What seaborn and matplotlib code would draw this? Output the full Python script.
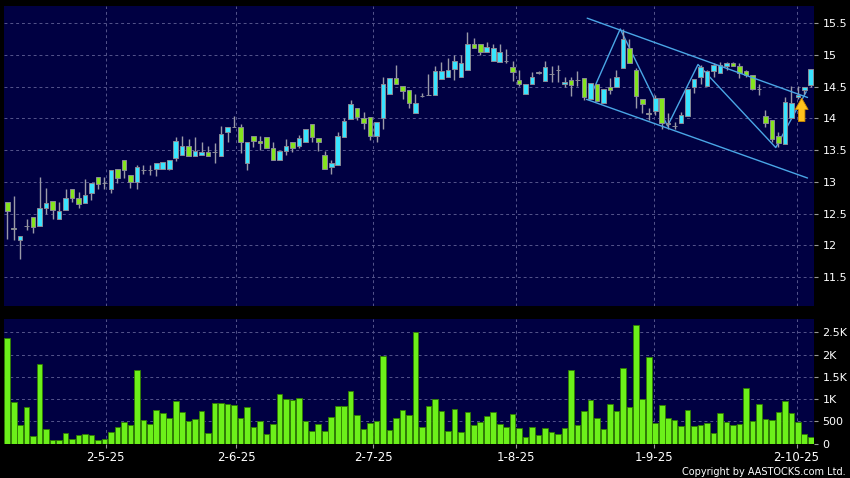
import numpy as np
import pandas as pd
import seaborn as sns
import matplotlib.pyplot as plt
from matplotlib.patches import FancyArrow

# daily candles (trading-day index 0..124)
opens = [12.68, 12.27, 12.09, 12.31, 12.45, 12.31, 12.59, 12.69, 12.42, 12.55,
         12.89, 12.74, 12.66, 12.82, 13.07, 12.98, 12.88, 13.21, 13.35, 13.10,
         12.99, 13.19, 13.19, 13.20, 13.21, 13.21, 13.38, 13.43, 13.57, 13.41,
         13.42, 13.47, 13.47, 13.41, 13.79, 13.86, 13.87, 13.29, 13.73, 13.65,
         13.70, 13.54, 13.35, 13.48, 13.62, 13.57, 13.62, 13.91, 13.69, 13.42,
         13.24, 13.27, 13.71, 13.99, 14.16, 14.01, 14.02, 13.72, 14.00, 14.38,
         14.64, 14.51, 14.44, 14.09, 14.36, 14.37, 14.37, 14.62, 14.65, 14.78,
         14.65, 14.76, 15.18, 15.17, 15.04, 14.91, 14.89, 14.91, 14.81, 14.61,
         14.39, 14.54, 14.71, 14.59, 14.70, 14.77, 14.55, 14.61, 14.60, 14.64,
         14.30, 14.54, 14.24, 14.50, 14.50, 14.79, 15.11, 14.77, 14.30, 14.09,
         14.12, 14.32, 13.93, 13.88, 13.92, 14.04, 14.50, 14.65, 14.51, 14.75,
         14.71, 14.82, 14.87, 14.83, 14.74, 14.69, 14.47, 14.04, 13.98, 13.73,
         13.59, 14.00, 14.34, 14.44, 14.53]
highs = [12.68, 12.77, 12.14, 12.42, 12.45, 13.07, 12.91, 12.70, 12.68, 12.88,
         12.89, 12.84, 13.04, 12.98, 13.07, 13.08, 13.18, 13.21, 13.35, 13.10,
         13.27, 13.26, 13.27, 13.29, 13.32, 13.34, 13.71, 13.72, 13.68, 13.71,
         13.62, 13.57, 13.61, 13.88, 13.86, 14.04, 13.91, 13.63, 13.73, 13.72,
         13.70, 13.63, 13.48, 13.68, 13.62, 13.74, 13.84, 13.91, 13.69, 13.49,
         13.35, 13.78, 14.00, 14.29, 14.16, 14.10, 14.02, 13.94, 14.65, 14.64,
         14.84, 14.51, 14.44, 14.38, 14.40, 14.70, 14.82, 14.89, 14.95, 15.00,
         15.00, 15.36, 15.26, 15.17, 15.21, 15.18, 15.17, 15.09, 14.91, 14.77,
         14.54, 14.73, 14.74, 14.91, 14.82, 14.84, 14.65, 14.66, 14.75, 14.64,
         14.56, 14.54, 14.47, 14.63, 14.76, 15.41, 15.25, 14.80, 14.30, 14.17,
         14.37, 14.32, 14.08, 13.94, 14.10, 14.47, 14.62, 14.84, 14.77, 14.87,
         14.89, 14.89, 14.89, 14.88, 14.76, 14.69, 14.55, 14.13, 13.98, 13.79,
         14.34, 14.51, 14.51, 14.50, 14.78]
lows = [12.10, 12.09, 11.79, 12.24, 12.19, 12.31, 12.50, 12.41, 12.42, 12.55,
        12.68, 12.59, 12.66, 12.72, 12.89, 12.89, 12.83, 12.98, 13.06, 12.91,
        12.89, 13.12, 13.11, 13.09, 13.21, 13.19, 13.33, 13.43, 13.41, 13.41,
        13.42, 13.40, 13.29, 13.41, 13.63, 13.86, 13.46, 13.19, 13.55, 13.50,
        13.54, 13.35, 13.35, 13.42, 13.47, 13.53, 13.62, 13.63, 13.49, 13.21,
        13.12, 13.27, 13.71, 13.99, 13.97, 13.84, 13.66, 13.62, 13.84, 14.38,
        14.54, 14.30, 14.17, 14.09, 14.33, 14.37, 14.37, 14.62, 14.65, 14.61,
        14.65, 14.76, 15.11, 15.00, 15.04, 14.91, 14.89, 14.87, 14.59, 14.51,
        14.39, 14.54, 14.70, 14.59, 14.58, 14.58, 14.49, 14.36, 14.51, 14.29,
        14.30, 14.28, 14.24, 14.38, 14.50, 14.79, 14.87, 14.16, 14.08, 13.97,
        14.05, 13.84, 13.84, 13.84, 13.92, 14.04, 14.40, 14.55, 14.51, 14.66,
        14.71, 14.76, 14.83, 14.64, 14.66, 14.45, 14.37, 13.86, 13.63, 13.55,
        13.59, 14.00, 14.30, 14.38, 14.49]
closes = [12.54, 12.25, 12.14, 12.31, 12.28, 12.59, 12.67, 12.55, 12.54, 12.75,
          12.75, 12.65, 12.80, 12.98, 12.96, 12.98, 13.18, 13.06, 13.19, 12.99,
          13.24, 13.19, 13.19, 13.29, 13.32, 13.34, 13.64, 13.57, 13.41, 13.49,
          13.47, 13.40, 13.47, 13.76, 13.86, 13.86, 13.62, 13.63, 13.64, 13.61,
          13.54, 13.35, 13.48, 13.57, 13.54, 13.69, 13.84, 13.71, 13.62, 13.21,
          13.29, 13.72, 13.96, 14.22, 14.02, 13.92, 13.72, 13.94, 14.55, 14.64,
          14.54, 14.43, 14.24, 14.25, 14.36, 14.37, 14.75, 14.75, 14.76, 14.91,
          14.87, 15.17, 15.11, 15.05, 15.12, 15.11, 15.05, 14.91, 14.73, 14.55,
          14.54, 14.66, 14.73, 14.81, 14.70, 14.77, 14.58, 14.52, 14.60, 14.33,
          14.56, 14.28, 14.47, 14.45, 14.66, 15.25, 14.87, 14.36, 14.22, 14.07,
          14.32, 13.93, 13.91, 13.88, 14.05, 14.47, 14.62, 14.81, 14.75, 14.84,
          14.84, 14.87, 14.83, 14.72, 14.69, 14.47, 14.47, 13.93, 13.67, 13.61,
          14.26, 14.25, 14.37, 14.49, 14.78]
volumes = [2380, 940, 418, 813, 172, 1783, 321, 82, 82, 231,
           104, 194, 216, 186, 75, 104, 254, 373, 485, 418,
           1664, 530, 440, 753, 686, 582, 962, 716, 500, 552,
           731, 246, 910, 910, 888, 858, 567, 821, 380, 507,
           209, 440, 1119, 1000, 992, 1037, 507, 291, 440, 283,
           597, 836, 843, 1194, 634, 328, 455, 500, 1977, 313,
           567, 765, 634, 2507, 380, 836, 1007, 739, 276, 768,
           269, 716, 425, 492, 619, 709, 440, 366, 664, 351,
           157, 380, 194, 343, 254, 224, 343, 1664, 425, 731,
           977, 582, 325, 888, 728, 1708, 813, 2656, 1000, 1955,
           455, 880, 567, 537, 403, 753, 388, 418, 455, 239,
           679, 485, 418, 440, 1261, 507, 895, 552, 530, 709,
           955, 686, 485, 224, 149]

date_labels = ['2-5-25', '2-6-25', '2-7-25', '1-8-25', '1-9-25', '2-10-25']
date_pos = [15.2, 35.3, 56.5, 78.5, 99.8, 121.8]

price_ticks = [11.5, 12, 12.5, 13, 13.5, 14, 14.5, 15, 15.5]
price_labels = ['11.5', '12', '12.5', '13', '13.5', '14', '14.5', '15', '15.5']
vol_ticks = [0, 500, 1000, 1500, 2000, 2500]
vol_labels = ['0', '500', '1K', '1.5K', '2K', '2.5K']

# hand-drawn trend channel and zigzag (index, price)
channel_top = ([89.5, 123.5], [15.58, 14.33])
channel_bottom = ([89.4, 123.5], [14.30, 13.06])
zigzag_x = [89.8, 94.6, 101.9, 106.6, 118.6, 123.3]
zigzag_y = [14.30, 15.41, 13.88, 14.85, 13.54, 14.42]
arrow_x, arrow_base, arrow_tip = 122.6, 13.95, 14.32

df = pd.DataFrame({'idx': np.arange(len(opens)), 'open': opens, 'high': highs,
                   'low': lows, 'close': closes, 'volume': volumes})

UP = '#38e4ff'
DOWN = '#84e41e'
FLAT = '#9a9aa8'
BG = '#000042'
GRID = '#55558c'
LINE = '#4aa6e6'

sns.set_theme(style='dark')
plt.rcParams['font.family'] = ['DejaVu Sans']

fig = plt.figure(figsize=(8.5, 4.78), dpi=100, facecolor='black')
ax = fig.add_axes([4 / 850, 1 - 305.5 / 478, 810 / 850, 300 / 478])
axv = fig.add_axes([4 / 850, 1 - 443.7 / 478, 810 / 850, 124.7 / 478])

for a in (ax, axv):
    a.set_facecolor(BG)
    for s in a.spines.values():
        s.set_visible(False)
    a.set_xlim(-0.5, 124.5)

# candles
colors = np.where(df['close'] > df['open'], UP,
                  np.where(df['close'] < df['open'], DOWN, FLAT))
ax.vlines(df['idx'], df['low'], df['high'], color=FLAT, lw=1, zorder=2)
body_lo = np.minimum(df['open'], df['close'])
body_h = np.abs(df['close'] - df['open'])
ax.bar(df['idx'], body_h, bottom=body_lo, width=0.7, color=colors,
       edgecolor='#8a8a96', linewidth=0.7, zorder=3)

ax.plot(*channel_top, color=LINE, lw=1, zorder=4)
ax.plot(*channel_bottom, color=LINE, lw=1, zorder=4)
ax.plot(zigzag_x, zigzag_y, color=LINE, lw=1, zorder=1.5)
ax.add_patch(FancyArrow(arrow_x, arrow_base, 0, arrow_tip - arrow_base,
                        width=1.0, head_width=2.0, head_length=0.18,
                        length_includes_head=True, fc='#ffc21c', ec='#c98600',
                        lw=0.6, zorder=5))

ax.set_ylim(11.05, 15.78)
ax.yaxis.tick_right()
ax.set_yticks(price_ticks, price_labels)
ax.set_xticks(date_pos)
ax.tick_params(axis='x', bottom=False, labelbottom=False)
ax.tick_params(axis='y', right=True, length=3, width=0.8, color='#999999',
               labelsize=8, labelcolor='white', pad=3)

# volume
sns.barplot(data=df, x='idx', y='volume', native_scale=True, width=0.86,
            color='#6cf01a', saturation=1, edgecolor='#2f7d00', linewidth=0.6,
            errorbar=None, ax=axv, zorder=3)
axv.set_xlim(-0.5, 124.5)
axv.set_ylim(0, 2800)
axv.yaxis.tick_right()
axv.set_yticks(vol_ticks, vol_labels)
axv.set_xticks(date_pos, date_labels)
axv.set_xlabel('')
axv.set_ylabel('')
axv.tick_params(axis='y', right=True, left=False, length=3, width=0.8,
                color='#999999', labelsize=8, labelcolor='white', pad=3)
axv.tick_params(axis='x', bottom=True, length=3, width=0.8, color='#999999',
                labelsize=8.5, labelcolor='white', pad=2)

for a in (ax, axv):
    a.grid(True, color=GRID, lw=0.7, ls=(0, (3, 3)), zorder=0)
    a.set_axisbelow(True)

fig.text(846 / 850, 1 - 472 / 478, 'Copyright by AASTOCKS.com Ltd.', color='white',
         fontsize=7, ha='right', va='center')

fig.savefig('out.png', dpi=100, facecolor='black')
